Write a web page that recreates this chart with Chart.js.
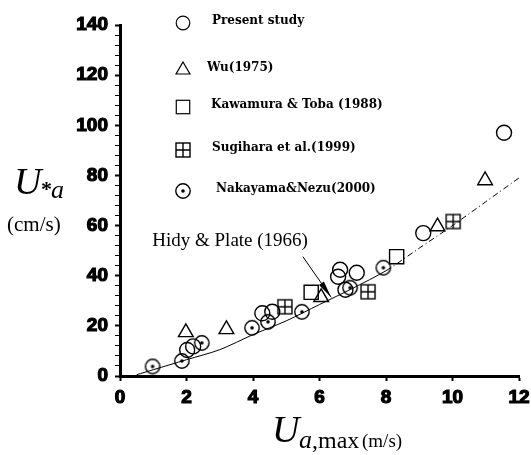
<!DOCTYPE html>
<html>
<head>
<meta charset="utf-8">
<script src="https://cdn.jsdelivr.net/npm/chart.js@4"></script>
<style>
  html, body { margin: 0; padding: 0; background: #fff; }
</style>
</head>
<body>
<canvas id="shearChart" width="531" height="455"></canvas>
<script>
// Friction velocity U*a (cm/s) against max wind speed Ua,max (m/s)
const presentStudy = [
    {x: 2.02, y: 10.4}, {x: 2.2, y: 11.8}, {x: 4.28, y: 25}, {x: 4.58, y: 25.6},
    {x: 6.56, y: 39.6}, {x: 6.62, y: 42.4}, {x: 7.12, y: 41.2}, {x: 6.78, y: 34.4},
    {x: 9.12, y: 57}, {x: 11.55, y: 97}
];
const wu1975 = [
    {x: 1.98, y: 17.4}, {x: 3.2, y: 18.6}, {x: 6.05, y: 31.4}, {x: 9.55, y: 59.6}, {x: 10.98, y: 78}
];
const kawamuraToba = [
    {x: 5.75, y: 33.4}, {x: 8.32, y: 47.6}
];
const sugihara = [
    {x: 4.96, y: 27.6}, {x: 7.46, y: 33.6}, {x: 10.02, y: 61.6}
];
const nakayamaNezu = [
    {x: 0.98, y: 3.8}, {x: 1.86, y: 6}, {x: 2.46, y: 13.2}, {x: 3.97, y: 19.2},
    {x: 4.45, y: 21.6}, {x: 5.47, y: 25.6}, {x: 6.92, y: 35.2}, {x: 7.92, y: 43.2}
];
// Hidy & Plate (1966) curve
const hidyPlateX = [0.5, 1, 2, 3, 4, 5, 6, 7, 8, 9, 10, 11, 12];
const hidyPlateY = [0.5, 2.5, 6.5, 10.5, 16.5, 22, 28.5, 35, 42, 51, 60, 69.5, 79];

const xTicks = [0, 2, 4, 6, 8, 10, 12];
const yTicks = [0, 20, 40, 60, 80, 100, 120, 140];

const legendNames = ['Present study', 'Wu(1975)', 'Kawamura & Toba (1988)', 'Sugihara et al.(1999)', 'Nakayama&Nezu(2000)'];

function makeMarker(kind) {
    const c = document.createElement('canvas');
    c.width = 18;
    c.height = 18;
    const g = c.getContext('2d');
    g.strokeStyle = '#000';
    g.fillStyle = '#000';
    g.lineWidth = 1.4;
    if (kind === 'crossSquare') {
        g.strokeRect(2, 2, 14, 14);
        g.beginPath();
        g.moveTo(9, 2); g.lineTo(9, 16);
        g.moveTo(2, 9); g.lineTo(16, 9);
        g.stroke();
    } else {
        g.beginPath();
        g.arc(9, 9, 7.2, 0, Math.PI * 2);
        g.stroke();
        g.beginPath();
        g.arc(9, 9, 1.8, 0, Math.PI * 2);
        g.fill();
    }
    return c;
}
const crossSquare = makeMarker('crossSquare');
const dotCircle = makeMarker('dotCircle');

const markerStyles = [
    {pointStyle: 'circle', radius: 7.5},
    {pointStyle: 'triangle', radius: 8.5},
    {pointStyle: 'rect', radius: 10},
    {pointStyle: crossSquare, radius: 9},
    {pointStyle: dotCircle, radius: 9}
];

function scatterSet(label, data, i) {
    return {
        label: label,
        data: data,
        pointStyle: markerStyles[i].pointStyle,
        pointRadius: markerStyles[i].radius,
        pointBorderWidth: 1.4,
        pointBorderColor: '#000',
        pointBackgroundColor: 'rgba(0,0,0,0)',
        showLine: false
    };
}

function drawMarker(ctx, style, r, x, y) {
    ctx.save();
    ctx.strokeStyle = '#000';
    ctx.lineWidth = 1.2;
    if (style instanceof HTMLCanvasElement) {
        ctx.drawImage(style, x - 9, y - 9);
    } else if (style === 'circle') {
        ctx.beginPath();
        ctx.arc(x, y, r, 0, Math.PI * 2);
        ctx.stroke();
    } else if (style === 'triangle') {
        ctx.beginPath();
        ctx.moveTo(x, y - r);
        ctx.lineTo(x + r * 0.87, y + r * 0.5);
        ctx.lineTo(x - r * 0.87, y + r * 0.5);
        ctx.closePath();
        ctx.stroke();
    } else {
        const s = r * Math.SQRT1_2;
        ctx.strokeRect(x - s, y - s, 2 * s, 2 * s);
    }
    ctx.restore();
}

// legend in the upper part of the plot, annotation arrow, axis titles
const extras = {
    id: 'extras',
    afterDraw(chart) {
        const ctx = chart.ctx;
        const xs = chart.scales.x, ys = chart.scales.y;

        const rowsY = [23, 70, 107, 150, 191];
        const textX = [212, 207, 211, 212, 216];
        const rowMarkerR = [6.8, 8, 9.5, 9, 9];
        ctx.save();
        ctx.fillStyle = '#000';
        ctx.font = 'bold 12px "DejaVu Serif"';
        ctx.textBaseline = 'middle';
        legendNames.forEach((name, i) => {
            drawMarker(ctx, markerStyles[i].pointStyle, rowMarkerR[i], 183, rowsY[i]);
            ctx.fillText(name, textX[i], rowsY[i] - 2);
        });
        ctx.restore();

        // Hidy & Plate label with arrow onto the curve
        ctx.save();
        ctx.fillStyle = '#000';
        ctx.strokeStyle = '#000';
        ctx.font = '19px "Liberation Serif"';
        ctx.textBaseline = 'alphabetic';
        ctx.fillText('Hidy & Plate (1966)', xs.getPixelForValue(0.97), ys.getPixelForValue(52));
        const x1 = xs.getPixelForValue(5.5), y1 = ys.getPixelForValue(47.6);
        const x2 = xs.getPixelForValue(6.35), y2 = ys.getPixelForValue(31.4);
        ctx.lineWidth = 1;
        ctx.beginPath();
        ctx.moveTo(x1, y1);
        ctx.lineTo(x2, y2);
        ctx.stroke();
        const ang = Math.atan2(y2 - y1, x2 - x1);
        ctx.beginPath();
        ctx.moveTo(x2, y2);
        ctx.lineTo(x2 - 17 * Math.cos(ang) + 3 * Math.sin(ang), y2 - 17 * Math.sin(ang) - 3 * Math.cos(ang));
        ctx.lineTo(x2 - 17 * Math.cos(ang) - 3 * Math.sin(ang), y2 - 17 * Math.sin(ang) + 3 * Math.cos(ang));
        ctx.closePath();
        ctx.fill();
        ctx.restore();

        // axis titles
        ctx.save();
        ctx.fillStyle = '#000';
        ctx.textBaseline = 'alphabetic';
        ctx.font = 'italic 38px "Liberation Serif"';
        ctx.fillText('U', 14, 194);
        ctx.font = 'bold 22px "Liberation Serif"';
        ctx.fillText('*', 41, 196);
        ctx.font = 'italic 26px "Liberation Serif"';
        ctx.fillText('a', 51, 198);
        ctx.font = '21px "Liberation Serif"';
        ctx.fillText('(cm/s)', 7, 231);

        ctx.font = 'italic 38px "Liberation Serif"';
        ctx.fillText('U', 272, 442);
        ctx.font = 'italic 26px "Liberation Serif"';
        ctx.fillText('a', 299, 448);
        ctx.font = '24px "Liberation Serif"';
        ctx.fillText(',max', 312, 448);
        ctx.font = '19px "Liberation Serif"';
        ctx.fillText('(m/s)', 362, 447);
        ctx.restore();
    }
};

const tickFont = {family: '"Liberation Sans"', size: 19, weight: 'bold'};

new Chart(document.getElementById('shearChart').getContext('2d'), {
    type: 'scatter',
    data: {
        datasets: [
            scatterSet(legendNames[0], presentStudy, 0),
            scatterSet(legendNames[1], wu1975, 1),
            scatterSet(legendNames[2], kawamuraToba, 2),
            scatterSet(legendNames[3], sugihara, 3),
            scatterSet(legendNames[4], nakayamaNezu, 4),
            {
                label: 'Hidy & Plate (1966)',
                data: hidyPlateX.map((x, i) => ({x: x, y: hidyPlateY[i]})),
                showLine: true,
                borderColor: '#000',
                borderWidth: 1,
                pointRadius: 0,
                tension: 0.3,
                segment: {
                    borderDash: ctx => ctx.p0.parsed.x >= 8 ? [6, 3, 1, 3] : undefined
                }
            }
        ]
    },
    options: {
        responsive: false,
        animation: false,
        devicePixelRatio: 1,
        layout: {padding: {left: 0, top: 25, right: 0, bottom: 0}},
        plugins: {
            legend: {display: false},
            tooltip: {enabled: false}
        },
        scales: {
            x: {
                type: 'linear',
                min: 0,
                max: 12,
                afterFit: s => { s.height = 79; s.paddingRight = 12; },
                afterBuildTicks: s => { s.ticks = xTicks.map(v => ({value: v})); },
                border: {color: '#000', width: 3},
                grid: {drawOnChartArea: false, drawTicks: true, tickLength: 5, tickColor: '#000', tickWidth: 2},
                ticks: {color: '#000', font: tickFont, padding: 5, maxRotation: 0,
                        textStrokeColor: '#000', textStrokeWidth: 1.2}
            },
            y: {
                type: 'linear',
                min: 0,
                max: 140,
                afterFit: s => { s.width = 120; },
                afterBuildTicks: s => {
                    const t = [];
                    for (let v = 0; v <= 140; v += 4) t.push({value: v});
                    s.ticks = t;
                },
                border: {color: '#000', width: 3},
                grid: {
                    drawOnChartArea: false,
                    drawTicks: true,
                    tickLength: 5,
                    tickColor: '#000',
                    tickWidth: c => (c.tick && yTicks.includes(c.tick.value)) ? 2 : 1
                },
                ticks: {
                    color: '#000',
                    font: tickFont,
                    padding: 7,
                    autoSkip: false,
                    textStrokeColor: '#000',
                    textStrokeWidth: 1.2,
                    callback: v => yTicks.includes(v) ? String(v) : ''
                }
            }
        }
    },
    plugins: [extras]
});
</script>
</body>
</html>
